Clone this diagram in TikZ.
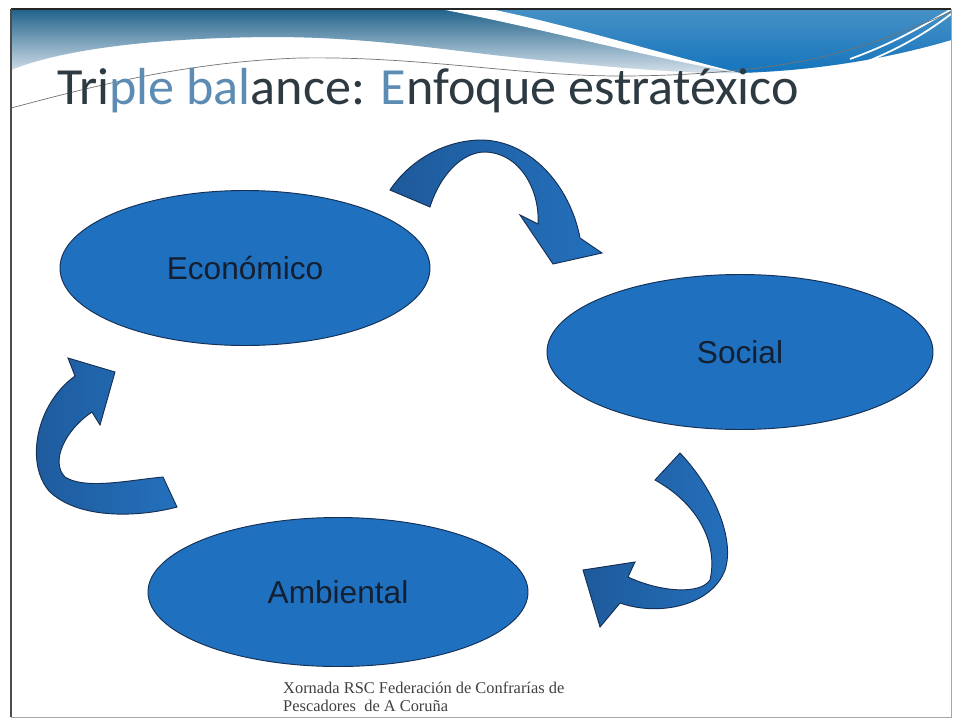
\documentclass[tikz,border=0pt]{standalone}
\usepackage{fontspec}
\usetikzlibrary{shapes.geometric}
\newfontfamily\titlefont{Carlito}
\newfontfamily\labelfont{Liberation Sans}
\newfontfamily\footfont{Liberation Serif}
\definecolor{ovalblue}{RGB}{31,112,190}
\definecolor{ovalline}{RGB}{22,48,85}
\definecolor{labeltext}{RGB}{20,32,50}
\definecolor{arrowblue}{RGB}{36,112,188}
\definecolor{arrowdark}{RGB}{30,90,155}
\definecolor{hdrtop}{RGB}{32,98,138}
\definecolor{hdrmid}{RGB}{70,130,170}
\definecolor{hdrlow}{RGB}{215,226,235}
\definecolor{hdrbright}{RGB}{20,116,188}
\definecolor{hdrpale}{RGB}{70,145,198}
\definecolor{titledark}{RGB}{45,58,66}
\definecolor{titleblue}{RGB}{92,140,180}

\begin{document}
\begin{tikzpicture}[x=0.03cm, y=-0.03cm,
    oval/.style={ellipse, inner sep=0pt, draw=ovalline, line width=0.8pt, fill=ovalblue,
        text=labeltext, font=\labelfont\fontsize{27}{30}\selectfont},
    bigarrow/.style={draw=ovalline, line width=0.8pt, left color=arrowdark, right color=arrowblue},
    footnote/.style={anchor=base west, inner sep=0pt, text=black!75,
        font=\footfont\fontsize{14}{15}\selectfont}]

    \useasboundingbox (0,0) rectangle (954,723);
    \fill[white] (0,0) rectangle (954,723);

    \shade[top color=hdrtop, middle color=hdrmid, bottom color=hdrlow] (11,9) -- (951,9) -- (951,40)
        .. controls (900,55) and (830,70) .. (740,73)
        .. controls (700,74) and (640,70) .. (560,62)
        .. controls (450,52) and (380,37) .. (270,37)
        .. controls (150,38) and (60,50) .. (11,70) -- cycle;
    \shade[top color=hdrpale, bottom color=hdrbright] (480,9)
        .. controls (570,28) and (665,58) .. (740,73)
        .. controls (830,70) and (900,55) .. (951,40) -- (951,9) -- cycle;
    \fill[white] (440,9) .. controls (540,28) and (650,58) .. (740,73)
        .. controls (655,52) and (565,24) .. (490,9) -- cycle;
    \foreach \d in {0,9} {
        \draw[white, line width=1.5pt] (850,68-\d) .. controls (900,50-\d) and (930,30-\d) .. (951,14-\d/2);
    }
    \draw[black!55, line width=0.6pt] (11,108) .. controls (80,90) and (180,62) .. (300,58)
        .. controls (420,56) and (520,76) .. (620,76)
        .. controls (700,76) and (780,68) .. (830,55)
        .. controls (880,42) and (920,25) .. (951,12);
    \draw[black!35, line width=0.8pt] (11,9) rectangle (951,717);
    \draw[black!85, line width=1.5pt] (11,9) -- (951,9);
    \draw[black!70, line width=1pt] (11,9) -- (11,717);

    \node[anchor=base west, inner sep=0pt, text=titledark,
        font=\titlefont\fontsize{44.5}{50}\selectfont] (title) at (57,104)
        {Tri\textcolor{titleblue}{ple bal}ance: \textcolor{titleblue}{E}nfoque estratéxico};

    \node[oval, minimum width=11.1cm, minimum height=4.65cm] (econ) at (245,268) {Económico};
    \node[oval, minimum width=11.58cm, minimum height=4.65cm] (social) at (740,352) {Social};
    \node[oval, minimum width=11.4cm, minimum height=4.47cm] (amb) at (338,592) {Ambiental};

    \draw[bigarrow] (390,190) .. controls (410,160) and (445,140) .. (482,140)
        .. controls (530,141) and (570,185) .. (580,238) -- (602,253) -- (553,264) -- (520,215)
        -- (538,224) .. controls (540,190) and (520,153) .. (485,152)
        .. controls (462,152) and (440,175) .. (430,207) -- cycle;
    \draw[bigarrow] (655,480) -- (680,453) .. controls (715,490) and (735,540) .. (725,570)
        .. controls (712,605) and (660,617) .. (620,603) -- (600,627) -- (583,570) -- (635,562)
        -- (628,577) .. controls (660,592) and (700,595) .. (710,580)
        .. controls (718,545) and (700,505) .. (655,480) -- cycle;
    \draw[bigarrow] (163,477) -- (177,507) .. controls (140,517) and (80,520) .. (50,492)
        .. controls (25,465) and (35,405) .. (75,376) -- (68,358) -- (115,372) -- (100,425)
        -- (92,412) .. controls (65,430) and (50,462) .. (65,477)
        .. controls (85,490) and (130,480) .. (163,477) -- cycle;

    \node[footnote] (foot1) at (283,693) {Xornada RSC Federación de Confrarías de};
    \node[footnote] (foot2) at (283,711) {Pescadores\ \ de A Coruña};
\end{tikzpicture}
\end{document}
